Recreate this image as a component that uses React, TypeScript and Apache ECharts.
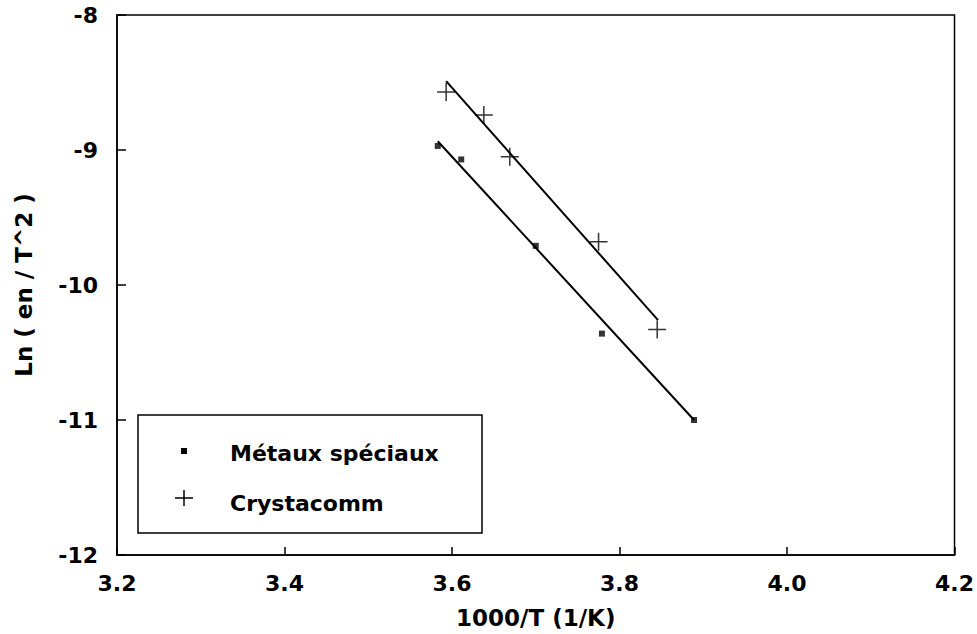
import React, { useEffect, useRef } from "react";
import * as echarts from "echarts";

const metauxX = [3.583, 3.611, 3.7, 3.779, 3.889];
const metauxY = [-8.97, -9.07, -9.71, -10.36, -11.0];
const crystaX = [3.593, 3.638, 3.669, 3.775, 3.845];
const crystaY = [-8.57, -8.74, -9.05, -9.68, -10.33];
const metauxFitX = [3.583, 3.889];
const metauxFitY = [-8.935, -11.0];
const crystaFitX = [3.593, 3.846];
const crystaFitY = [-8.49, -10.26];
const seriesNames = ["Métaux spéciaux", "Crystacomm"];
const xTitle = "1000/T (1/K)";
const yTitle = "Ln ( en / T^2 )";

const zip = (xs: number[], ys: number[]) => xs.map((x, i) => [x, ys[i]]);

const PLUS = "path://M0,9L18,9M9,0L9,18";
const FONT = "DejaVu Sans";

export default function App() {
  const ref = useRef<HTMLDivElement>(null);
  useEffect(() => {
    if (!ref.current) return;
    const chart = echarts.init(ref.current, null, { renderer: "svg" });
    chart.setOption({
      animation: false,
      backgroundColor: "#fff",
      grid: {
        left: 117,
        top: 15,
        width: 839,
        height: 542,
        show: true,
        borderColor: "#000",
        borderWidth: 1.5,
      },
      xAxis: {
        type: "value",
        min: 3.2,
        max: 4.2,
        interval: 0.2,
        name: xTitle,
        nameLocation: "middle",
        nameGap: 51,
        nameTextStyle: { color: "#000", fontFamily: FONT, fontWeight: "bold", fontSize: 23 },
        axisLine: { lineStyle: { color: "#000", width: 1.5 } },
        axisTick: { inside: true, length: 8, lineStyle: { color: "#000", width: 1.5 } },
        axisLabel: {
          color: "#000",
          fontFamily: FONT,
          fontWeight: "bold",
          fontSize: 22,
          margin: 17,
          formatter: (v: number) => v.toFixed(1),
        },
        splitLine: { show: false },
      },
      yAxis: {
        type: "value",
        min: -12,
        max: -8,
        interval: 1,
        name: yTitle,
        nameLocation: "middle",
        nameGap: 82,
        nameRotate: 90,
        nameTextStyle: { color: "#000", fontFamily: FONT, fontWeight: "bold", fontSize: 23 },
        axisLine: { lineStyle: { color: "#000", width: 1.5 } },
        axisTick: { inside: true, length: 9, lineStyle: { color: "#000", width: 1.5 } },
        axisLabel: {
          color: "#000",
          fontFamily: FONT,
          fontWeight: "bold",
          fontSize: 22,
          margin: 19,
        },
        splitLine: { show: false },
      },
      legend: { show: false },
      series: [
        {
          name: seriesNames[0] + " fit",
          type: "line",
          data: zip(metauxFitX, metauxFitY),
          symbol: "none",
          lineStyle: { color: "#000", width: 2 },
        },
        {
          name: seriesNames[1] + " fit",
          type: "line",
          data: zip(crystaFitX, crystaFitY),
          symbol: "none",
          lineStyle: { color: "#000", width: 2 },
        },
        {
          name: seriesNames[0],
          type: "scatter",
          data: zip(metauxX, metauxY),
          symbol: "rect",
          symbolSize: 6,
          itemStyle: { color: "#000" },
        },
        {
          name: seriesNames[1],
          type: "scatter",
          data: zip(crystaX, crystaY),
          symbol: PLUS,
          symbolSize: 18,
          itemStyle: { color: "none", borderColor: "#000", borderWidth: 1.5 },
        },
      ],
      graphic: [
        {
          type: "rect",
          shape: { x: 138, y: 415, width: 344, height: 118 },
          style: { fill: "#fff", stroke: "#000", lineWidth: 1.5 },
          z: 10,
        },
        {
          type: "rect",
          shape: { x: 181, y: 448, width: 6, height: 6 },
          style: { fill: "#000" },
          z: 11,
        },
        {
          type: "line",
          shape: { x1: 175, y1: 498, x2: 193, y2: 498 },
          style: { stroke: "#000", lineWidth: 1.5 },
          z: 11,
        },
        {
          type: "line",
          shape: { x1: 184, y1: 490, x2: 184, y2: 506 },
          style: { stroke: "#000", lineWidth: 1.5 },
          z: 11,
        },
        {
          type: "text",
          x: 230,
          y: 453,
          style: {
            text: seriesNames[0],
            fill: "#000",
            font: `bold 22px "${FONT}"`,
            textVerticalAlign: "middle",
            verticalAlign: "middle",
          },
          z: 11,
        },
        {
          type: "text",
          x: 230,
          y: 503,
          style: {
            text: seriesNames[1],
            fill: "#000",
            font: `bold 22px "${FONT}"`,
            textVerticalAlign: "middle",
            verticalAlign: "middle",
          },
          z: 11,
        },
      ],
    });
    return () => chart.dispose();
  }, []);
  return (
    <div
      ref={ref}
      style={{ position: "fixed", left: 0, top: 0, width: 977, height: 634 }}
    />
  );
}
